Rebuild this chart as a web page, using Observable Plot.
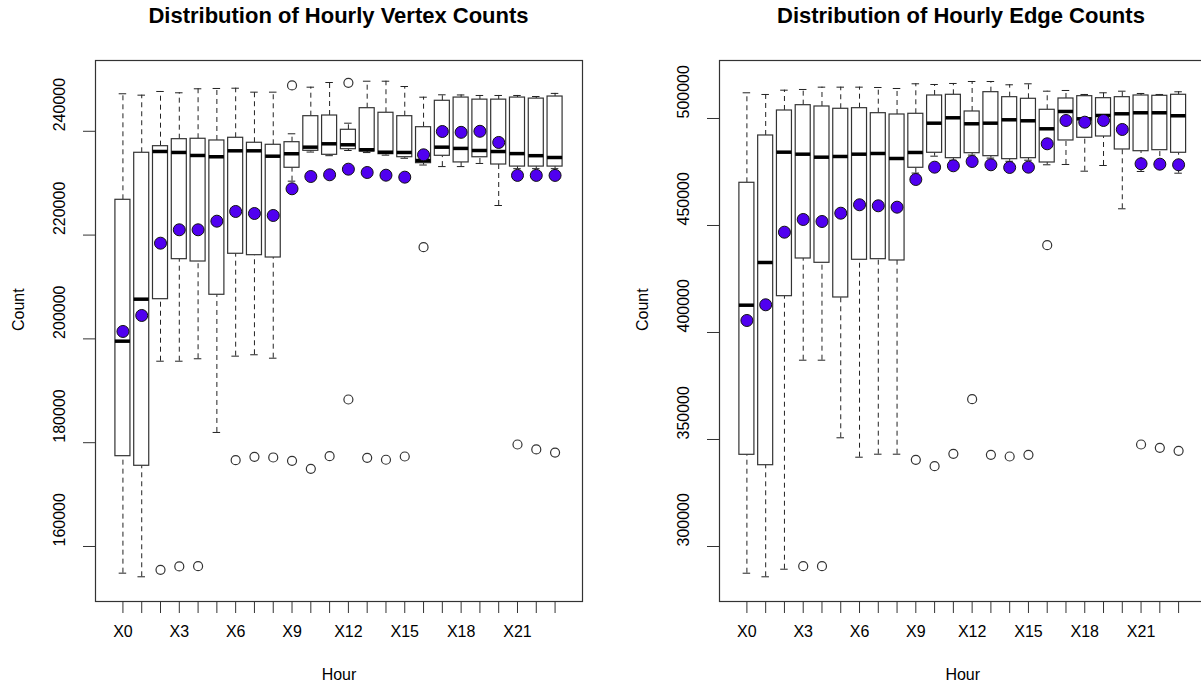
<!DOCTYPE html>
<html><head><meta charset="utf-8">
<script src="https://cdn.jsdelivr.net/npm/d3@7"></script>
<script src="https://cdn.jsdelivr.net/npm/@observablehq/plot@0.6"></script>
<style>
html,body{margin:0;padding:0;background:#fff;overflow:hidden;}
#wrap{position:relative;width:1201px;height:687px;font-family:"Liberation Sans",Arial,sans-serif;background:#fff;}
.title{position:absolute;top:5px;height:22px;line-height:22px;font-weight:bold;font-size:22px;text-align:center;white-space:nowrap;color:#000;}
.panel{position:absolute;top:40px;height:647px;overflow:hidden;}
</style></head>
<body>
<div id="wrap">
  <div class="panel" id="p1" style="left:0;width:600px"></div>
  <div class="panel" id="p2" style="left:600px;width:601px"></div>
  <div class="title" style="left:38px;width:601px">Distribution of Hourly Vertex Counts</div>
  <div class="title" style="left:662px;width:539px;text-align:left;padding-left:115px;box-sizing:border-box">Distribution of Hourly Edge Counts</div>
</div>
<script>
const hours = ["X0","X1","X2","X3","X4","X5","X6","X7","X8","X9","X10","X11","X12","X13","X14","X15","X16","X17","X18","X19","X20","X21","X22","X23"];

// Vertex counts (left)
const vLow  = [154860,154160,195700,195700,196170,181970,196670,196940,196280,230390,236000,235300,236300,235900,235400,234800,233500,233200,233200,233800,225700,232800,232800,232800];
const vQ1   = [177400,175550,207650,215360,214910,208500,216400,216130,215680,232970,236240,235470,236550,236110,235590,235010,233860,235280,234000,235000,233600,233200,233200,233200];
const vMed  = [199560,207650,236110,235920,235340,235090,236240,236240,235200,235670,236940,237590,237400,236440,235970,235920,234370,236940,236700,236300,236100,235700,235300,234950];
const vQ3   = [226800,235860,237130,238480,238560,238230,238750,237790,237400,237900,242910,243040,240290,244450,243570,242910,240790,245880,246500,246100,246100,246500,246300,246700];
const vHigh = [247230,246960,247670,247420,248190,248250,248300,247540,247540,239520,248500,249400,241560,249650,249650,248630,246570,247030,247000,246900,246900,246900,246700,247300];
const vMean = [201430,204510,218440,221020,221020,222680,224550,224160,223780,228920,231290,231620,232700,232060,231540,231160,235470,239960,239800,240000,237850,231500,231500,231500];
const vOutHour = [2,3,4,6,7,8,9,9,10,11,12,12,13,14,15,16,21,22,23];
const vOutVal  = [155510,156150,156210,176630,177280,177150,248830,176510,174970,177400,249340,188320,177090,176710,177340,217670,179650,178700,178100];
const vTicks = [160000,180000,200000,220000,240000];

// Edge counts (right)
const eLow  = [287520,285840,289390,387060,387060,350800,341730,343130,343130,474500,482390,480500,482900,481500,480000,480500,478370,478510,475380,478040,457810,475240,478000,474440];
const eQ1   = [342850,337990,416970,434580,432570,416360,433980,434260,433650,476970,483980,481460,483790,482390,480990,481460,479440,489730,490990,491590,485520,484720,485190,483980];
const eMed  = [412760,432710,484260,483320,481920,482250,483320,483650,481310,484120,497810,500330,497530,497810,499400,498930,495190,503280,499860,501410,502200,502670,502670,501270];
const eQ3   = [469960,492060,503740,506220,505610,504540,504820,502480,501870,502200,510750,511080,503280,512300,509960,509210,504070,509350,510430,509490,509960,510750,510610,511080];
const eHigh = [512010,511220,513230,513560,514640,514640,514640,514490,514020,516220,515890,516360,517290,517290,515750,516220,512760,513090,511220,512010,512760,511690,511220,512480];
const eMean = [405610,412950,446870,452810,451870,455750,459680,459210,458560,471500,477250,477900,479910,478370,477110,477250,488180,499070,498280,499070,494870,478840,478650,478370];
const eOutHour = [3,4,9,10,11,12,13,14,15,16,21,22,23];
const eOutVal  = [290800,290800,340520,337520,343320,368830,342850,342060,342850,440800,347670,346120,344720];
const eTicks = [300000,350000,400000,450000,500000];

const MEAN_FILL = "#5000f0";
const INK = "#222";
const FS = 16;

function panel({low, q1, med, q3, high, mean, outH, outV, ticks, domain, width, marginLeft, marginRight}) {
  const idx = hours.map((_, i) => i);
  const rows = idx.map(i => ({i, low: low[i], q1: q1[i], med: med[i], q3: q3[i], high: high[i], mean: mean[i]}));
  const outs = outH.map((h, k) => ({i: h, v: outV[k]}));
  const dash = {stroke: INK, strokeWidth: 1, strokeDasharray: "5,4"};
  return Plot.plot({
    width, height: 647, marginLeft, marginRight, marginTop: 20, marginBottom: 86,
    style: {fontFamily: "'Liberation Sans', Arial, sans-serif", fontSize: FS + "px", background: "transparent", color: "#000", maxWidth: "none"},
    x: {type: "linear", domain: [-1.46, 24.46]},
    y: {domain},
    marks: [
      Plot.ruleX(rows, {x: "i", y1: "q3", y2: "high", ...dash}),
      Plot.ruleX(rows, {x: "i", y1: "low", y2: "q1", ...dash}),
      Plot.ruleY(rows, {y: "high", x1: d => d.i - 0.2, x2: d => d.i + 0.2, stroke: INK}),
      Plot.ruleY(rows, {y: "low", x1: d => d.i - 0.2, x2: d => d.i + 0.2, stroke: INK}),
      Plot.rect(rows, {x1: d => d.i - 0.4, x2: d => d.i + 0.4, y1: "q1", y2: "q3", fill: "white", stroke: "#333", strokeWidth: 1.2}),
      Plot.ruleY(rows, {y: "med", x1: d => d.i - 0.4, x2: d => d.i + 0.4, stroke: "#000", strokeWidth: 3.5}),
      Plot.dot(outs, {x: "i", y: "v", r: 4.5, stroke: "#333", fill: "none", strokeWidth: 1.2}),
      Plot.dot(rows, {x: "i", y: "mean", r: 6, fill: MEAN_FILL, stroke: "#111", strokeWidth: 1}),
      Plot.frame({stroke: "#333", strokeWidth: 1.2}),
      Plot.axisX({ticks: idx, tickSize: 12, tickPadding: 12, fontSize: FS, label: null, tickFormat: i => i % 3 === 0 ? hours[i] : "", stroke: "#333"}),
      Plot.axisY({ticks, tickSize: 12, label: null, tickFormat: () => "", stroke: "#333"}),
      Plot.text(ticks, {y: d => d, frameAnchor: "left", dx: -36, rotate: -90, fontSize: FS, text: d => String(d), fill: "#000"}),
      Plot.text(["Hour"], {frameAnchor: "bottom", dy: 78, fontSize: FS, fill: "#000"}),
      Plot.text(["Count"], {frameAnchor: "left", dx: -77, rotate: -90, fontSize: FS, fill: "#000"})
    ]
  });
}

document.getElementById("p1").appendChild(panel({
  low: vLow, q1: vQ1, med: vMed, q3: vQ3, high: vHigh, mean: vMean, outH: vOutHour, outV: vOutVal,
  ticks: vTicks, domain: [149400, 253640], width: 600, marginLeft: 95, marginRight: 18
}));
document.getElementById("p2").appendChild(panel({
  low: eLow, q1: eQ1, med: eMed, q3: eQ3, high: eHigh, mean: eMean, outH: eOutHour, outV: eOutVal,
  ticks: eTicks, domain: [274300, 527100], width: 607, marginLeft: 119, marginRight: 1.5
}));
</script>
</body></html>
